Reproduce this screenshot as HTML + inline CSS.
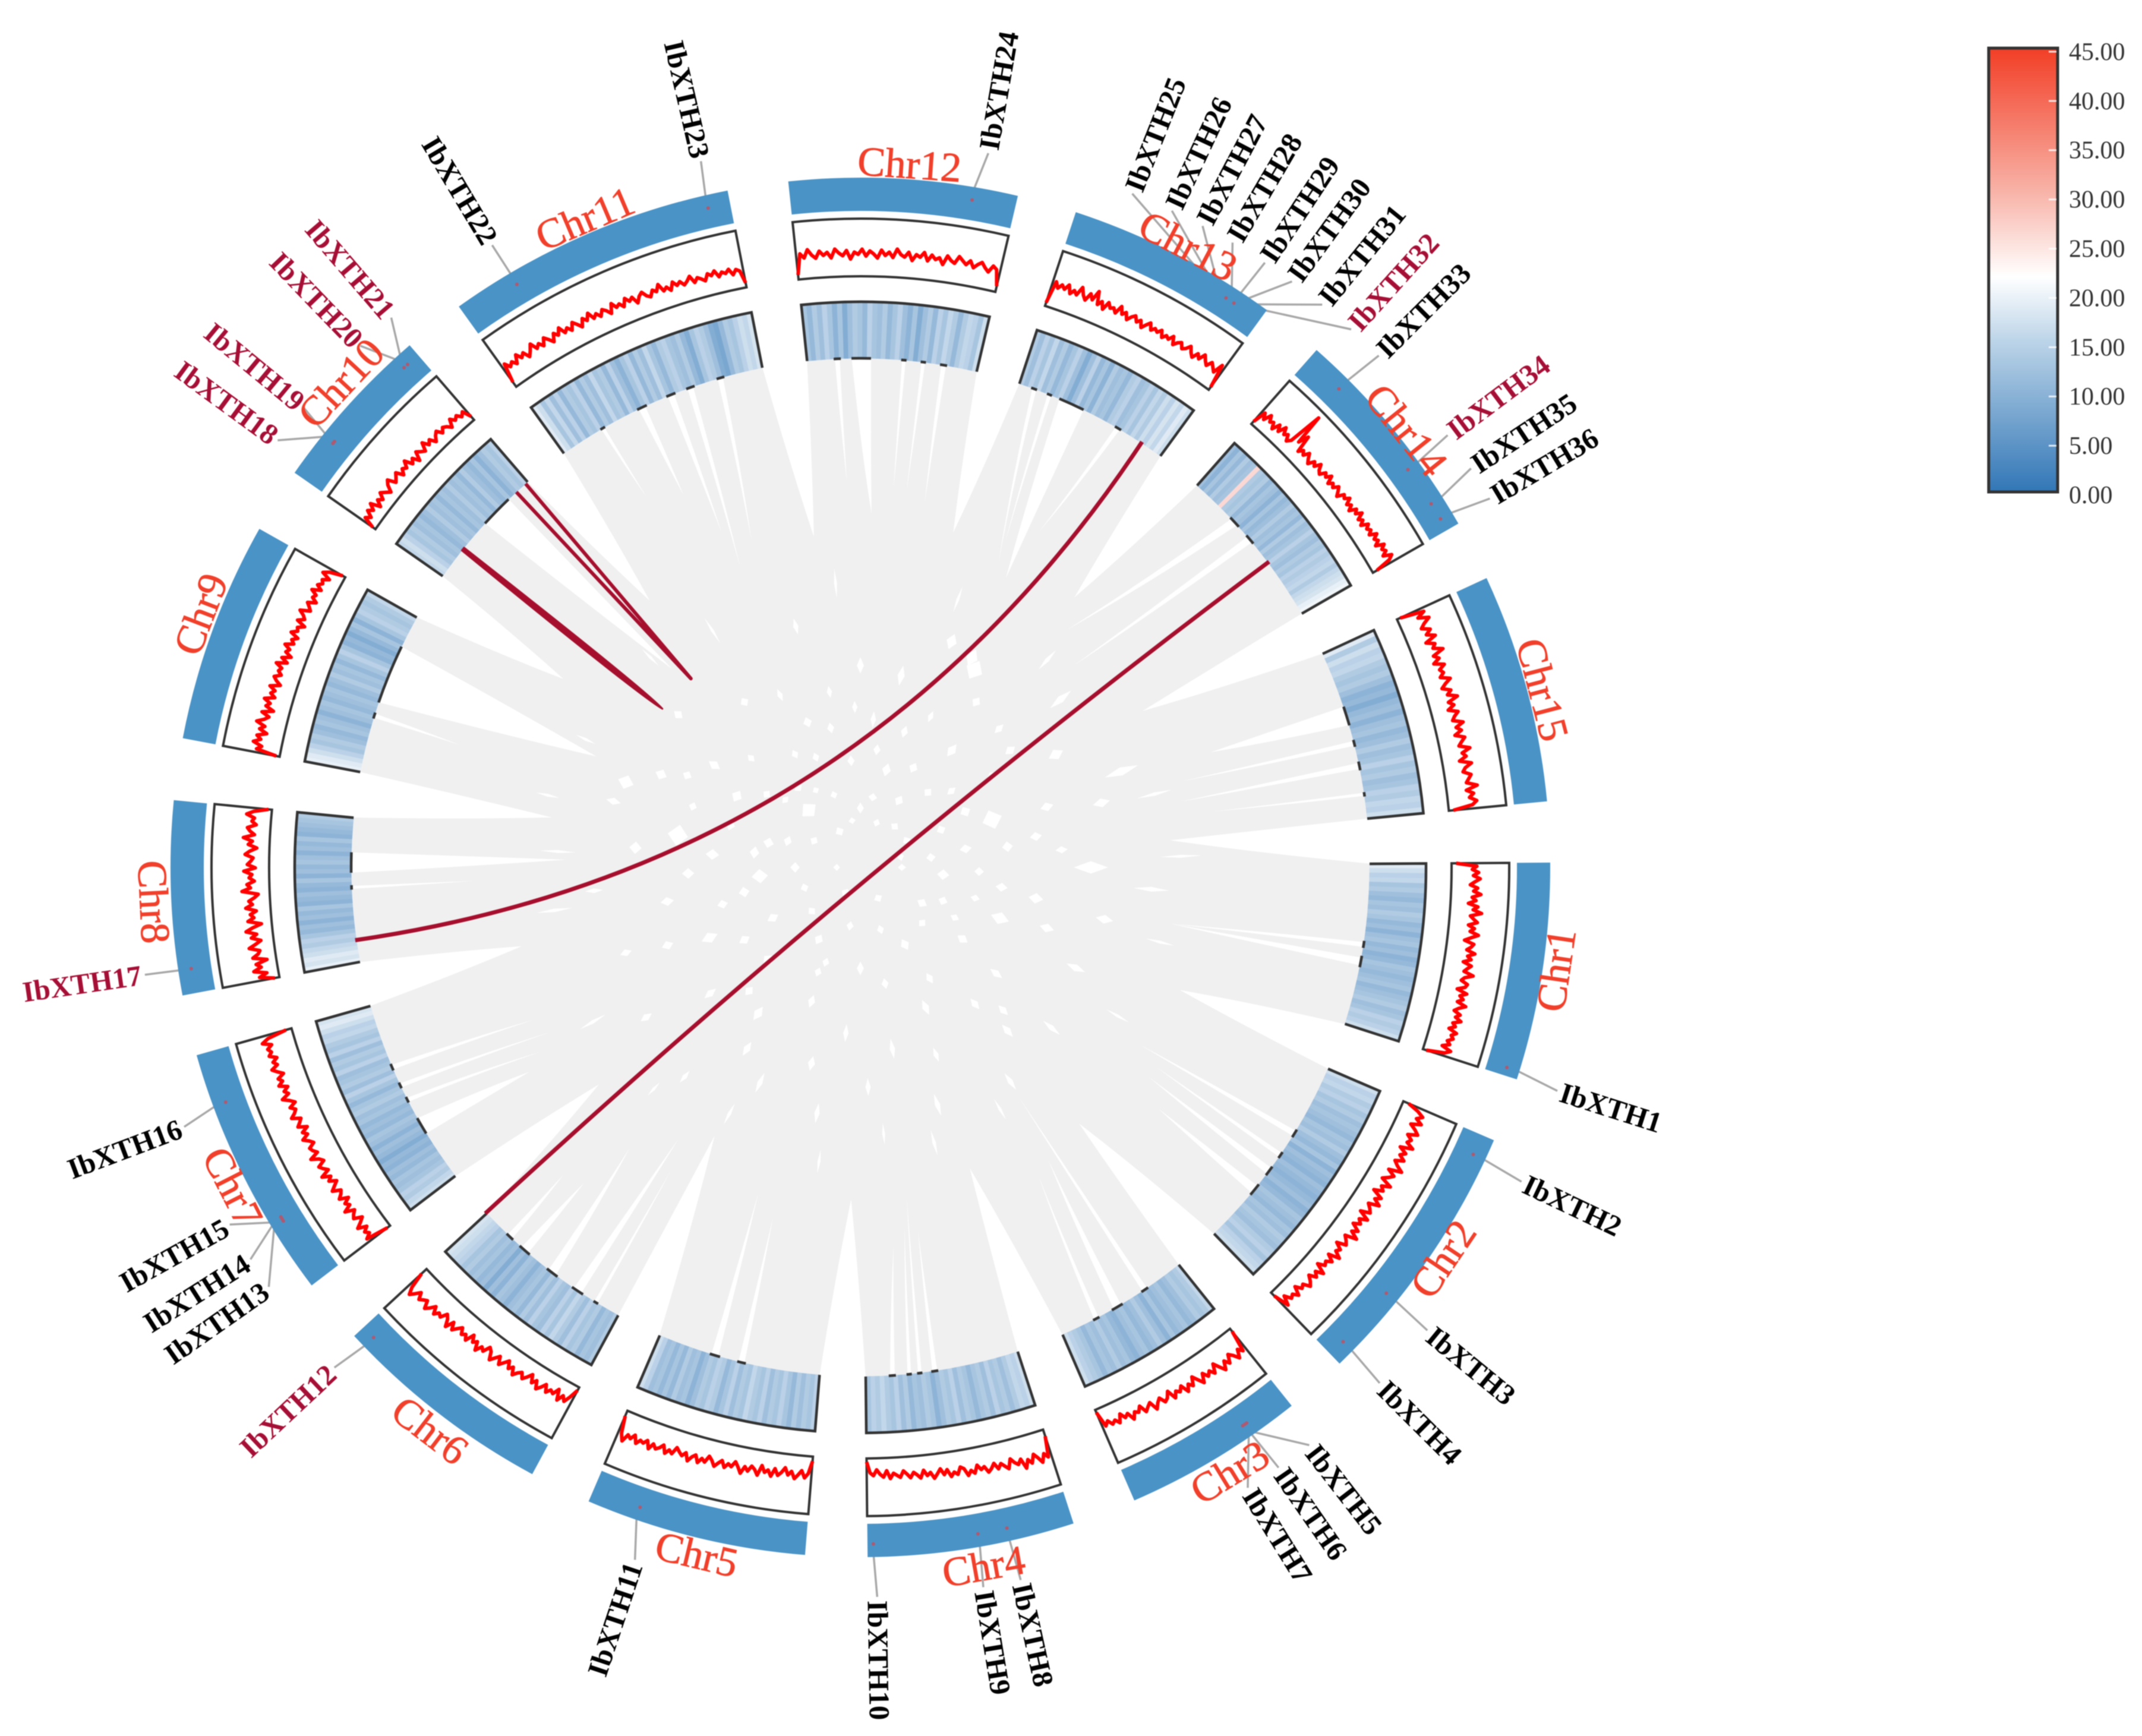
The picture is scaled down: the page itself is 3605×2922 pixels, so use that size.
<!DOCTYPE html>
<html lang="en">
<head>
<meta charset="utf-8">
<title>IbXTH circos chart</title>
<style>
html,body{margin:0;padding:0;background:#fff;width:3605px;height:2922px;overflow:hidden}
svg{display:block;filter:blur(0.9px)}
text{font-family:"Liberation Serif",serif}
</style>
</head>
<body>
<svg id="chart" xmlns="http://www.w3.org/2000/svg" width="3605" height="2922" viewBox="0 0 3605 2922">
<defs>
<linearGradient id="legendGrad" x1="0" y1="0" x2="0" y2="1">
<stop offset="0" stop-color="#f23e26"/>
<stop offset="0.33" stop-color="#f8b5aa"/>
<stop offset="0.515" stop-color="#ffffff"/>
<stop offset="0.66" stop-color="#bcd4e8"/>
<stop offset="1" stop-color="#3176b6"/>
</linearGradient>
</defs>
</svg>
<script>
// ---------- chromosome data ----------
const chrNames = ['Chr1','Chr2','Chr3','Chr4','Chr5','Chr6','Chr7','Chr8','Chr9','Chr10','Chr11','Chr12','Chr13','Chr14','Chr15'];
const chrSizes = [36.6,45.4,30.6,34.8,37.2,37.6,43,32.6,37.2,28.6,49,38.4,35.8,37.4,38.6];
const chrGaps = [5.4,5.3,5.4,5.2,5.2,5.5,5.1,5.2,5.5,5.2,5.1,5,5.3,5.1,5.5];
const chrLabelAngles = [8.4,33.9,58.6,80,103.4,127.4,153,177.2,201,223,247,274,297.8,321.3,345.4];
const chrLabelRadii = [1184,1182,1193,1195,1189,1193,1186,1191,1189,1195,1186,1186,1182,1177,1186];

// ---------- gene labels ----------
const geneNames = ['IbXTH1','IbXTH2','IbXTH3','IbXTH4','IbXTH5','IbXTH6','IbXTH7','IbXTH8','IbXTH9','IbXTH10','IbXTH11','IbXTH12','IbXTH13','IbXTH14','IbXTH15','IbXTH16','IbXTH17','IbXTH18','IbXTH19','IbXTH20','IbXTH21','IbXTH22','IbXTH23','IbXTH24','IbXTH25','IbXTH26','IbXTH27','IbXTH28','IbXTH29','IbXTH30','IbXTH31','IbXTH32','IbXTH33','IbXTH34','IbXTH35','IbXTH36'];
const geneChr = [0,1,1,1,2,2,2,3,3,3,4,5,6,6,6,6,7,9,9,9,9,10,10,11,12,12,12,12,12,12,12,12,13,13,13,13];
const genePos = [35.2,3.6,31.4,42.4,7.8,8.2,8.6,11,16,33.8,28.8,35.2,11.6,12,12.4,34,4.2,7.8,8.2,25.4,26.2,10.2,45.2,31,22.2,24.4,26,29,30.6,32,33.6,35.2,7.2,25.2,32.2,35.2];
const geneLabelAngles = [17.7,25.4,39.3,44.9,52.3,55.3,58.2,77.6,80.6,89,108.4,136.8,145,147.6,150.8,159.3,171.7,216.2,219.5,226.1,229.4,239.2,257,279.8,291.6,295,297.7,300.4,303.4,306,309,312,315,323.3,326.5,329.3];
const duplicatedGenes = ['IbXTH12','IbXTH17','IbXTH18','IbXTH19','IbXTH20','IbXTH21','IbXTH32','IbXTH34'];
const unmarkedGenes = ['IbXTH25','IbXTH26','IbXTH27','IbXTH30','IbXTH31','IbXTH32'];

// ---------- line track values (percent of track height), one array per chromosome ----------
const lineChr1 = [8,44,36,47,38,50,41,33,46,39,52,37,44,31,48,40,55,36,42,49,34,45,38,53,41,30,47,43,36,51,39,46,33,48,42,37,54,40,35,47,44,31,49,38,45,36,52,41,34,46,39,50,37,43,33,48,40,45,36,42,30,47,38,6];
const lineChr2 = [10,30,42,33,45,28,39,47,31,41,36,50,29,43,35,46,32,40,52,30,44,37,28,48,34,41,26,45,36,49,31,38,43,27,46,33,40,29,44,35,50,30,37,42,26,39,34,47,28,41,32,36,24,43,30,38,26,35,41,29,33,22,37,28,32,20,36,8];
const lineChr3 = [6,44,36,50,40,33,47,38,52,42,31,46,37,44,34,49,39,29,43,36,47,32,40,35,45,28,38,42,31,37,46,30,35,41,27,36,32,43,29,34,24,38,30,35,26,33,5];
const lineChr4 = [12,48,40,54,44,36,50,42,56,38,46,41,33,49,43,37,45,34,42,47,36,40,31,44,38,46,33,29,41,36,43,30,38,27,35,42,31,36,26,39,33,28,37,30,24,35,31,27,36,22,33,28,20,30,25,6];
const lineChr5 = [8,30,38,26,34,41,29,36,24,33,39,28,42,32,37,26,44,35,30,40,33,46,36,28,38,34,42,31,37,44,35,29,41,36,45,33,38,47,34,41,36,30,43,38,46,33,40,44,37,48,35,42,39,47,34,43,38,52,40,10];
const lineChr6 = [6,22,34,26,38,20,32,28,36,24,33,40,27,35,22,31,38,29,34,42,30,37,25,33,41,28,36,44,31,26,39,34,46,32,38,27,43,35,40,30,37,45,33,48,36,30,42,38,46,34,43,50,37,41,46,35,44,52,40,12];
const lineChr7 = [6,46,36,42,33,48,38,30,44,40,34,50,36,42,31,46,39,35,49,41,33,45,38,52,36,43,48,35,41,54,38,44,47,36,42,51,39,46,34,49,43,38,53,45,40,48,36,44,55,41,47,38,52,43,49,37,46,54,42,48,39,51,45,50,41,56,44,10];
const lineChr8 = [8,34,20,42,28,36,16,40,30,26,44,32,22,38,28,46,34,18,41,30,36,25,43,31,37,27,20,48,33,39,26,35,30,44,24,38,32,28,42,34,22,37,30,46,27,35,40,25,33,29,43,31,6];
const lineChr9 = [6,42,34,50,38,46,30,44,36,52,40,33,47,28,43,37,49,32,41,35,46,29,38,44,33,40,36,48,30,42,27,39,34,45,31,37,28,43,33,36,25,41,30,35,44,27,32,38,24,34,30,41,26,36,29,33,22,38,28,5];
const lineChr10 = [6,26,18,30,22,33,16,27,20,31,24,17,29,35,21,26,32,19,28,23,34,20,27,15,30,24,19,33,22,28,17,25,30,20,27,23,16,29,21,26,18,24,8];
const lineChr11 = [10,44,34,40,32,46,36,42,30,38,48,35,41,33,45,38,30,43,36,47,34,40,32,44,37,29,42,35,46,33,39,31,41,36,28,44,34,38,30,43,35,40,27,37,42,33,29,39,34,45,31,36,28,41,33,38,30,35,42,29,36,32,27,38,33,40,28,35,31,37,26,34,30,8];
const lineChr12 = [8,44,36,50,40,34,46,38,43,33,48,41,36,45,30,42,38,47,35,44,39,32,46,37,43,34,49,40,36,45,31,42,38,47,33,44,37,41,30,46,39,35,48,42,36,44,33,40,45,37,31,43,38,10];
const lineChr13 = [6,46,36,44,38,48,34,42,36,52,40,33,47,38,56,34,42,30,45,37,40,33,48,36,42,31,39,44,35,41,30,38,45,34,40,36,43,32,39,35,44,31,38,42,33,37,45,36,30,41,34,46,38,32,42,36,30,48,6];
const lineChr14 = [6,30,20,34,24,28,18,32,22,36,25,30,20,27,88,34,52,22,30,24,34,26,20,31,25,36,27,23,33,28,37,24,31,26,35,29,22,34,30,38,27,33,24,36,30,40,28,34,26,38,31,36,29,41,32,37,28,42,34,39,30,44,36,8];
const lineChr15 = [6,48,34,52,40,32,46,36,50,30,44,38,54,34,42,30,47,36,41,33,49,38,30,44,36,52,34,42,30,46,38,33,50,36,44,31,47,40,34,52,37,43,30,50,38,33,46,41,36,54,34,46,38,50,42,8];
const lineSeries = [lineChr1,lineChr2,lineChr3,lineChr4,lineChr5,lineChr6,lineChr7,lineChr8,lineChr9,lineChr10,lineChr11,lineChr12,lineChr13,lineChr14,lineChr15];

// ---------- heat track values (colour-bar units), one array per chromosome ----------
const heatChr1 = [19,17,15,16,13,14,12,11,13,12,14,13,11,12,10,12,13,11,12,10,11,13,12,11,12,13,11,12,13,14,12,13,15,14,15,17];
const heatChr2 = [17,15,16,14,15,13,14,12,13,12,11,13,12,14,12,11,13,10,12,11,10,12,11,10,11,12,10,11,13,12,11,13,12,14,13,12,14,15,13,15,16,17];
const heatChr3 = [16,14,13,14,12,11,13,12,11,13,10,12,14,12,11,13,12,10,11,13,12,14,12,13,11,13,14,15,17];
const heatChr4 = [17,15,16,14,12,14,13,15,12,14,13,11,13,14,12,15,13,14,12,10,13,14,12,13,11,14,12,15,13,14,16,14,15,13];
const heatChr5 = [15,13,14,12,14,11,13,15,13,14,12,15,13,14,16,13,14,12,15,13,11,14,15,13,14,12,10,13,12,14,11,13,11,13,12,15,17];
const heatChr6 = [14,12,13,11,14,13,15,12,14,16,13,15,12,13,15,12,14,11,13,12,10,12,13,10,12,9,12,11,13,12,14,13,15,16,17,18];
const heatChr7 = [17,16,14,15,13,12,13,11,12,10,11,9,11,12,10,12,13,11,12,11,13,12,14,13,11,13,15,12,14,13,12,15,13,14,12,15,13,14,16,15,17,19,18];
const heatChr8 = [20,18,19,17,16,14,15,13,11,12,10,12,11,13,10,11,12,10,11,13,10,12,11,13,12,10,12,11,13,10,11,12,13,14];
const heatChr9 = [20,19,17,15,13,14,12,11,13,12,10,12,13,11,12,13,11,12,14,12,13,11,13,15,13,10,11,9,11,13,10,13,15,14,13,14,16];
const heatChr10 = [16,17,15,13,14,12,13,11,12,14,12,13,11,13,12,14,12,13,11,14,12,11,13,10,12,14,13,15];
const heatChr11 = [19,17,13,16,12,15,11,14,13,15,11,14,12,16,13,14,11,15,12,10,13,15,11,14,12,16,13,11,14,15,13,12,14,11,9,13,15,14,12,9,8,11,14,13,15,17,16,18];
const heatChr12 = [13,11,14,12,15,13,10,13,9,12,14,13,11,15,13,12,14,11,13,15,12,10,13,9,12,14,11,15,13,16,14,11,14,16,15,13,17];
const heatChr13 = [14,12,15,13,16,12,14,11,13,15,12,9,12,15,11,13,10,14,12,13,11,14,15,12,13,15,13,16,14,17,15,18,16,19,17];
const heatChr14 = [12,10,13,11,14,12,13,27,14,13,14,11,13,12,10,13,11,12,14,12,13,11,14,12,13,15,13,12,14,13,15,14,15,16,14,16,17,18,20,21];
const heatChr15 = [19,14,17,15,16,14,13,14,12,10,11,9,11,12,10,12,13,11,12,14,12,13,15,13,14,12,13,15,14,16,15,17];
const heatSeries = [heatChr1,heatChr2,heatChr3,heatChr4,heatChr5,heatChr6,heatChr7,heatChr8,heatChr9,heatChr10,heatChr11,heatChr12,heatChr13,heatChr14,heatChr15];

// ---------- link layer: white gaps left between the grey ribbons [angle1, angle2, tipAngle, tipRadius] ----------
const gapNotches = [[17.9,23.3,21,576],[46,51.3,49.5,567],[66.6,72,70,539],[89.4,94.6,91.6,559],[113.2,118.4,118.5,514],[137.2,142.7,140.3,572],[164.2,169.3,166.9,585],[185.6,190.8,189.2,526],[209.4,214.9,212.4,592],[229.2,234.4,231.7,572],[258.9,264,262,562],[283.2,288.2,285.5,585],[306.1,311.4,308.4,580],[330.1,335.2,331,543],[354.5,359.6,355,523]];
const thinNotches = [[8.3,9.1,10.3,530],[10,11.3,10.3,530],[31,32,32.4,556],[34,34.8,34,600],[36,37.2,36,600],[38.5,40,39,645],[55.6,56.5,55.4,470],[59,60.4,57.3,586],[62,62.8,60,600],[81.2,82,81,620],[83,83.6,82,560],[84.2,84.8,83,610],[86,86.8,85,640],[103,104,104,608],[106,107.2,107.4,575],[121,121.6,122,600],[123,124.5,123.8,550],[126.5,128,129.4,612],[130.5,132,131.2,706],[133,134,134,720],[148.5,150.5,148.3,655],[152.5,153.2,150,620],[154.3,155,152,590],[156.5,157.3,155,607],[177.5,178,178,650],[179.4,181.7,181.5,495],[197,197.7,197,705],[198.9,205.7,202.8,482],[222.5,226.3,226.5,460],[239.3,239.9,240,720],[244,245.2,244.6,694],[247.6,248.7,247.5,611],[250,251,248.2,545],[253.6,254.5,251.6,580],[267,267.8,268,650],[269,271.2,271.8,596],[274.6,275.2,275,640],[276.8,277.4,277,640],[279,279.8,280,625],[289.6,290.3,294.4,563],[291.5,292.1,294,600],[293,296,296.7,545],[300,300.8,298,640],[316.6,318,311,530],[319.3,320.5,316.6,495],[341.6,343.8,341.8,621],[345.5,346.3,345,560],[348,349,348.4,550],[351.5,352,351,600]];
// small white openings where ribbons cross [angle, radius, width, length]
const speckles = [[339.8,468,14,60],[4.3,491,8,60],[0,388,14,50],[190,312,24,30],[340,236,22,30],[175,170,16,24],[228,130,20,24],[300,384,20,30],[298,400,14,26],[292,410,12,24],[200,420,16,24],[215,300,10,20],[250,260,10,16],[270,340,8,24],[255,420,6,24],[282,330,8,30],[308,250,10,22],[320,200,8,16],[350,300,10,18],[10,300,12,22],[20,250,14,28],[35,210,10,18],[50,300,8,20],[65,260,8,24],[80,310,6,30],[95,280,6,26],[110,240,8,20],[125,300,10,24],[140,330,8,22],[155,280,12,26],[170,330,10,20],[185,250,12,20],[195,430,8,22],[205,370,12,18],[220,400,10,16],[235,340,10,14],[240,220,8,14],[265,180,8,16],[285,170,10,20],[315,330,8,18],[330,380,12,24],[345,420,10,26],[355,340,8,18],[12,420,10,26],[25,400,8,30],[40,420,6,32],[55,440,6,30],[72,420,6,34],[85,450,5,36],[100,420,6,30],[115,400,6,32],[130,460,8,26],[145,440,8,20],[160,420,8,18],[175,450,8,30],[185,380,14,18],[200,300,10,12],[210,240,14,16],[225,260,8,14],[245,320,6,20],[260,300,6,18],[275,250,6,24],[295,280,6,18],[305,340,10,16],[325,270,8,16],[335,150,10,14],[350,180,10,18],[5,140,12,18],[30,120,10,16],[60,150,10,18],[90,170,8,20],[120,140,10,16],[150,170,10,18],[180,110,12,14],[210,90,10,12],[240,70,10,14],[270,100,8,16],[300,130,10,16],[330,90,10,12],[0,70,8,12],[60,60,10,12],[120,50,10,14],[180,40,8,10],[240,150,8,10],[15,200,8,14],[100,100,8,14],[45,340,8,20],[135,220,12,18],[165,240,10,16],[195,160,12,16],[250,130,8,12],[290,80,8,12],[352,120,10,14],[320,440,8,40],[312,470,7,44],[346,510,6,60],[358,540,5,70],[14,520,5,50],[30,500,5,44],[60,470,5,40],[75,480,6,44],[98,500,5,40],[118,470,6,40],[133,510,5,30],[150,520,6,50],[172,520,6,60],[183,510,5,60],[193,540,5,40],[205,510,5,36],[225,500,5,40],[238,470,5,50],[265,480,5,50],[290,480,5,46],[8,240,10,18],[18,330,10,22],[28,180,8,14],[38,290,8,22],[48,370,8,24],[58,220,8,18],[68,340,6,22],[78,200,8,16],[88,370,6,26],[104,340,8,22],[112,190,8,14],[122,360,8,24],[132,280,10,16],[148,230,10,18],[158,350,10,18],[168,200,12,16],[178,290,12,18],[188,180,14,14],[198,230,12,14],[208,330,10,14],[218,200,10,12],[232,170,10,12],[248,200,8,14],[258,240,8,16],[268,270,6,18],[278,200,8,16],[288,240,8,18],[298,190,10,16],[312,170,10,14],[322,320,10,18],[332,200,12,16],[342,330,10,20],[352,250,12,16],[2,200,10,14],[22,150,10,14],[42,140,10,12],[72,110,8,14],[110,170,8,14],[138,110,10,12],[160,100,10,12],[200,130,12,12],[222,170,10,10],[260,80,8,10],[280,120,10,12],[310,90,10,12],[345,70,10,10]];
// highlighted collinear pairs
const redHairpins = [[228.9,227.5,228.1,427]];
const redWedges = [[218.7,427]];
const redChords = [[171.8,303.5],[323.2,137.3]];

// ---------- legend ----------
const legendValues = [45,40,35,30,25,20,15,10,5,0];
const legendLabels = ['45.00','40.00','35.00','30.00','25.00','20.00','15.00','10.00','5.00','0.00'];

// ---------- layout ----------
const svg = document.getElementById('chart');
const NS = 'http://www.w3.org/2000/svg';
const CX = 1448, CY = 1460, START = -0.4;
const HEAT_IN = 857, HEAT_OUT = 952, LINE_IN = 995, LINE_OUT = 1092, RING_IN = 1105, RING_OUT = 1161, LABEL_R = 1230;
const DEG_PER_UNIT = 0.5;

function pol(a, r) {
  const t = a * Math.PI / 180;
  return [CX + r * Math.cos(t), CY + r * Math.sin(t)];
}
function fmt(p) { return p[0].toFixed(1) + ' ' + p[1].toFixed(1); }
function make(tag, attrs, parent) {
  const el = document.createElementNS(NS, tag);
  for (const k in attrs) el.setAttribute(k, attrs[k]);
  (parent || svg).appendChild(el);
  return el;
}
const chrStarts = [];
let cursor = START;
chrSizes.forEach(function (s, i) {
  chrStarts.push(cursor);
  cursor += s * DEG_PER_UNIT + chrGaps[i];
});
function chrAngle(i, pos) { return chrStarts[i] + pos * DEG_PER_UNIT; }
function chrEnd(i) { return chrAngle(i, chrSizes[i]); }
function arcSeg(a1, a2, r, sweep) {
  const large = Math.abs(a2 - a1) > 180 ? 1 : 0;
  return 'A' + r + ' ' + r + ' 0 ' + large + ' ' + sweep + ' ' + fmt(pol(a2, r));
}
function sector(a1, a2, r1, r2) {
  return 'M' + fmt(pol(a1, r2)) + arcSeg(a1, a2, r2, 1) + 'L' + fmt(pol(a2, r1)) + arcSeg(a2, a1, r1, 0) + 'Z';
}
function heatColor(v) {
  const blue = [49, 118, 182], white = [255, 255, 255], red = [242, 62, 38];
  const mid = 22.5;
  const t = v <= mid ? v / mid : (v - mid) / (45 - mid);
  const a = v <= mid ? blue : white, b = v <= mid ? white : red;
  return 'rgb(' + a.map(function (c, i) { return Math.round(c + (b[i] - c) * t); }).join(',') + ')';
}
function notchPath(n) {
  const R = 861, mid = n[3] + (R - n[3]) * 0.45;
  let a1 = n[0], a2 = n[1];
  if (a2 - a1 < 1.6) {
    const c = (a1 + a2) / 2, h = (a2 - a1) * 0.34;
    a1 = c - h;
    a2 = c + h;
  }
  return 'M' + fmt(pol(a1, R)) + 'Q' + fmt(pol(a1 + (n[2] - a1) * 0.35, mid)) + ' ' + fmt(pol(n[2], n[3])) +
    'Q' + fmt(pol(a2 + (n[2] - a2) * 0.35, mid)) + ' ' + fmt(pol(a2, R)) + 'Z';
}

// ---------- grey ribbons ----------
const ribbonGroup = make('g', {});


const ribbonMass = make('circle', { cx: CX, cy: CY, r: HEAT_IN + 1, fill: '#f0f0f0' }, ribbonGroup);


gapNotches.concat(thinNotches).forEach(function (n) {
  const el = make('path', { d: notchPath(n), fill: '#fff' }, ribbonGroup);
  
  
});
speckles.forEach(function (s) {
  const a = s[0], r = s[1], w = s[2] * (r < 450 ? 1.5 : 1), l = s[3] * (r < 450 ? 1.15 : 1);
  const dw = (w / 2) / r * 180 / Math.PI;
  const pts = [pol(a, r - l / 2), pol(a + dw, r), pol(a, r + l / 2), pol(a - dw, r)].map(fmt).join(' ');
  const el = make('polygon', { points: pts, fill: '#fff' }, ribbonGroup);
  
  
});

// ---------- heat track ----------
heatSeries.forEach(function (vals, i) {
  const g = make('g', {});
  
  
  const a0 = chrStarts[i], a1 = chrEnd(i), step = (a1 - a0) / vals.length;
  vals.forEach(function (v, k) {
    const c = heatColor(v);
    const el = make('path', { d: sector(a0 + k * step, a0 + (k + 1) * step, HEAT_IN, HEAT_OUT), fill: c, stroke: c, 'stroke-width': 0.8 }, g);
    
    
  });
  const frame = make('path', { d: 'M' + fmt(pol(a0, HEAT_IN)) + 'L' + fmt(pol(a0, HEAT_OUT)) + arcSeg(a0, a1, HEAT_OUT, 1) + 'L' + fmt(pol(a1, HEAT_IN)), fill: 'none', stroke: '#333', 'stroke-width': 4.5 }, g);
  
  
});
thinNotches.forEach(function (n) {
  const el = make('path', { d: 'M' + fmt(pol(n[0], HEAT_IN)) + arcSeg(n[0], n[1], HEAT_IN, 1), fill: 'none', stroke: '#333', 'stroke-width': 4.5 });
  
  
});

// ---------- highlighted links ----------
redChords.forEach(function (c) {
  const p = pol(c[0], HEAT_IN + 2), q = pol(c[1], HEAT_IN + 2);
  const el = make('path', { d: 'M' + fmt(p) + 'Q' + CX + ' ' + CY + ' ' + fmt(q), fill: 'none', stroke: '#a50f2d', 'stroke-width': 7 });
  
  
});
redHairpins.forEach(function (c) {
  const el = make('path', { d: 'M' + fmt(pol(c[0], HEAT_IN)) + 'L' + fmt(pol(c[2], c[3])) + 'L' + fmt(pol(c[1], HEAT_IN)), fill: 'none', stroke: '#a50f2d', 'stroke-width': 6, 'stroke-linejoin': 'round' });
  
  
});
redWedges.forEach(function (c) {
  const b = pol(c[0], HEAT_IN), t = pol(c[0], c[1]);
  const dx = t[0] - b[0], dy = t[1] - b[1], len = Math.hypot(dx, dy), ux = -dy / len, uy = dx / len;
  const m = [b[0] + dx * 0.9, b[1] + dy * 0.9];
  const d = 'M' + fmt([b[0] + ux * 3, b[1] + uy * 3]) + 'Q' + fmt([m[0] + ux * 7, m[1] + uy * 7]) + ' ' + fmt(t) +
    'Q' + fmt([m[0] - ux * 7, m[1] - uy * 7]) + ' ' + fmt([b[0] - ux * 3, b[1] - uy * 3]) + 'Z';
  const el = make('path', { d: d, fill: '#a50f2d', stroke: '#a50f2d', 'stroke-width': 3, 'stroke-linejoin': 'round' });
  
  
});

// ---------- line track ----------
lineSeries.forEach(function (vals, i) {
  const a0 = chrStarts[i], a1 = chrEnd(i);
  const box = make('path', { d: sector(a0, a1, LINE_IN, LINE_OUT), fill: '#fff', stroke: '#333', 'stroke-width': 4 });
  
  
  const d = vals.map(function (v, k) {
    const a = a0 + (a1 - a0) * k / (vals.length - 1);
    return (k ? 'L' : 'M') + fmt(pol(a, LINE_IN + v / 100 * (LINE_OUT - LINE_IN)));
  }).join('');
  const line = make('path', { d: d, fill: 'none', stroke: '#ff0000', 'stroke-width': 6, 'stroke-linejoin': 'round' });
  
  
});

// ---------- leaders, outer ring, labels ----------
const LABEL_DX = 7, LABEL_DY = 4;
geneNames.forEach(function (name, i) {
  const a = chrAngle(geneChr[i], genePos[i]);
  const s = pol(a, RING_OUT - 4), e = pol(geneLabelAngles[i], LABEL_R - 6);
  const el = make('line', { x1: s[0], y1: s[1], x2: e[0] + LABEL_DX, y2: e[1] + LABEL_DY, stroke: '#a8a8a8', 'stroke-width': 3.5 });
  
  
});
chrNames.forEach(function (name, i) {
  const el = make('path', { d: sector(chrStarts[i], chrEnd(i), RING_IN, RING_OUT), fill: '#4a93c6' });
  
  
});
geneNames.forEach(function (name, i) {
  if (unmarkedGenes.indexOf(name) >= 0) return;
  const a = chrAngle(geneChr[i], genePos[i]), p = pol(a, (RING_IN + RING_OUT) / 2 + 6);
  const el = make('circle', { cx: p[0], cy: p[1], r: 3, fill: '#b0586f' });
  
  
});
chrNames.forEach(function (name, i) {
  const a = chrLabelAngles[i], p = pol(a, chrLabelRadii[i]);
  const rot = a < 180 ? a - 90 : a - 270;
  const el = make('text', { x: p[0], y: p[1], dy: '0.33em', 'text-anchor': 'middle', 'font-size': 70, fill: '#f0402b', stroke: '#f0402b', 'stroke-width': 0.8, transform: 'rotate(' + rot + ' ' + p[0] + ' ' + p[1] + ')' });
  el.textContent = name;
  
  
});
geneNames.forEach(function (name, i) {
  const a = geneLabelAngles[i], q = pol(a, LABEL_R), p = [q[0] + LABEL_DX, q[1] + LABEL_DY];
  const right = a < 90 || a > 270;
  const rot = right ? a : a + 180;
  const el = make('text', { x: p[0], y: p[1], dy: '0.33em', 'text-anchor': right ? 'start' : 'end', 'font-size': 49, 'font-weight': 'bold', fill: duplicatedGenes.indexOf(name) >= 0 ? '#a50f35' : '#000', transform: 'rotate(' + rot + ' ' + p[0] + ' ' + p[1] + ')' });
  el.textContent = name;
  
  
});

// ---------- legend ----------
const legendBar = make('rect', { x: 3347, y: 81, width: 116, height: 747, fill: 'url(#legendGrad)', stroke: '#333', 'stroke-width': 5 });


function legendY(v) { return 87 + (45 - v) * 16.58; }
legendValues.forEach(function (v, i) {
  const y = legendY(v);
  if (v > 0) {
    const t = make('line', { x1: 3448, x2: 3461, y1: y, y2: y, stroke: '#fff', 'stroke-width': 3, opacity: 0.8 });
    
    
  }
  const el = make('text', { x: 3482, y: y, dy: '0.33em', 'font-size': 42, fill: '#333' });
  el.textContent = legendLabels[i];
  
  
});
</script>
</body>
</html>
